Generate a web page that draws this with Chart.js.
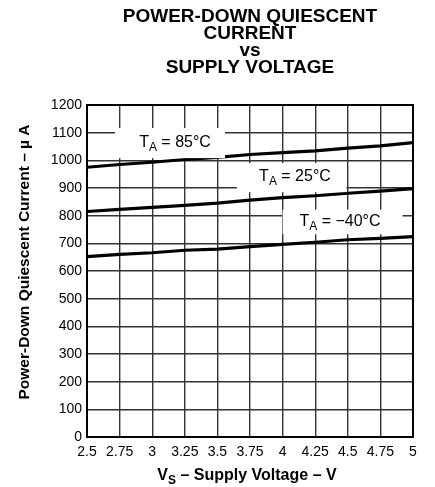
<!DOCTYPE html>
<html>
<head>
<meta charset="utf-8">
<script src="https://cdn.jsdelivr.net/npm/chart.js@4.4.1/dist/chart.umd.min.js"></script>
<style>
  html, body { margin: 0; padding: 0; background: #fff; }
  #chart { display: block; }
</style>
</head>
<body>
<canvas id="chart" width="435" height="487"></canvas>
<script>
// ========== DATA ==========
const voltage = [2.5, 2.75, 3, 3.25, 3.5, 3.75, 4, 4.25, 4.5, 4.75, 5];
const current85 = [975, 985, 993, 1003, 1011, 1021, 1028, 1034, 1044, 1052, 1064];
const current25 = [815, 823, 830, 837, 845, 856, 865, 872, 881, 889, 898];
const currentMinus40 = [652, 660, 666, 675, 679, 688, 696, 704, 713, 718, 724];
const seriesNames = ["85°C", "25°C", "\u221240°C"];
const xTickLabels = ["2.5", "2.75", "3", "3.25", "3.5", "3.75", "4", "4.25", "4.5", "4.75", "5"];
const yTickLabels = ["0", "100", "200", "300", "400", "500", "600", "700", "800", "900", "1000", "1100", "1200"];

const FONT = "'Liberation Sans', Arial, Helvetica, sans-serif";

// where each curve label sits, in axis units (box = x1, x2, yTop, yBottom)
const labelSpots = [
  { cx: 3.175, cy: 1065, box: [2.715, 3.558, 1117, 1008] },
  { cx: 4.095, cy: 942, box: [3.65, 4.49, 990, 885] },
  { cx: 4.44, cy: 778, box: [4.0, 4.92, 822, 733] }
];

function toPoints(ys) {
  return voltage.map((v, i) => ({ x: v, y: ys[i] }));
}

// ========== TEXT PLUGIN ==========
function drawSubText(ctx, x, y, main, sub, rest, size, bold, align) {
  const w = bold ? "bold " : "";
  const subSize = Math.round(size * 0.78);
  ctx.font = w + size + "px " + FONT;
  const w1 = ctx.measureText(main).width;
  ctx.font = w + subSize + "px " + FONT;
  const w2 = ctx.measureText(sub).width;
  ctx.font = w + size + "px " + FONT;
  const w3 = ctx.measureText(rest).width;
  const left = align === "center" ? x - (w1 + w2 + w3) / 2 : x;
  ctx.textAlign = "left";
  ctx.textBaseline = "middle";
  ctx.fillText(main, left, y);
  ctx.font = w + subSize + "px " + FONT;
  ctx.fillText(sub, left + w1, y + size * 0.32);
  ctx.font = w + size + "px " + FONT;
  ctx.fillText(rest, left + w1 + w2, y);
}

const textPlugin = {
  id: "textPlugin",
  afterDatasetsDraw(chart) {
    const { ctx, scales } = chart;
    ctx.save();
    labelSpots.forEach((spot, i) => {
      const x1 = scales.x.getPixelForValue(spot.box[0]);
      const x2 = scales.x.getPixelForValue(spot.box[1]);
      const y1 = scales.y.getPixelForValue(spot.box[2]);
      const y2 = scales.y.getPixelForValue(spot.box[3]);
      ctx.fillStyle = "#fff";
      ctx.fillRect(x1, y1, x2 - x1, y2 - y1);
      ctx.fillStyle = "#000";
      drawSubText(ctx, scales.x.getPixelForValue(spot.cx), scales.y.getPixelForValue(spot.cy),
        "T", "A", " = " + seriesNames[i], 16, false, "center");
    });
    ctx.restore();
  },
  afterDraw(chart) {
    const { ctx, chartArea } = chart;
    ctx.save();
    // frame
    ctx.strokeStyle = "#000";
    ctx.lineWidth = 2;
    ctx.strokeRect(chartArea.left, chartArea.top, chartArea.right - chartArea.left, chartArea.bottom - chartArea.top);

    // title
    ctx.fillStyle = "#000";
    ctx.textAlign = "center";
    ctx.textBaseline = "middle";
    ctx.font = "bold 19px " + FONT;
    const titleX = (chartArea.left + chartArea.right) / 2;
    ctx.fillText("POWER-DOWN QUIESCENT", titleX, 17);
    ctx.fillText("CURRENT", titleX, 34);
    ctx.fillText("vs", titleX, 51);
    ctx.fillText("SUPPLY VOLTAGE", titleX, 68);

    // y axis title
    ctx.save();
    ctx.translate(25, 262);
    ctx.rotate(-Math.PI / 2);
    ctx.font = "bold 15.5px " + FONT;
    ctx.fillText("Power-Down Quiescent Current \u2013 \u00b5 A", 0, 0);
    ctx.restore();

    // x axis title
    drawSubText(ctx, 247, 476, "V", "S", " \u2013 Supply Voltage \u2013 V", 16, true, "center");
    ctx.restore();
  }
};

// ========== CHART ==========
const lineStyle = {
  borderColor: "#000",
  borderWidth: 3.2,
  pointRadius: 0,
  tension: 0,
  fill: false
};

new Chart(document.getElementById("chart").getContext("2d"), {
  type: "line",
  data: {
    datasets: [
      { label: seriesNames[0], data: toPoints(current85), ...lineStyle },
      { label: seriesNames[1], data: toPoints(current25), ...lineStyle },
      { label: seriesNames[2], data: toPoints(currentMinus40), ...lineStyle }
    ]
  },
  options: {
    responsive: false,
    animation: false,
    devicePixelRatio: 1,
    layout: { padding: { top: 105, right: 22, bottom: 15, left: 37 } },
    plugins: {
      legend: { display: false },
      title: { display: false },
      tooltip: { enabled: false }
    },
    scales: {
      x: {
        type: "linear",
        min: 2.5,
        max: 5,
        afterFit: (s) => { s.height = 35; },
        ticks: {
          stepSize: 0.25,
          autoSkip: false,
          maxRotation: 0,
          padding: 7,
          color: "#000",
          font: { family: FONT, size: 14 },
          callback: (v) => xTickLabels[Math.round((v - 2.5) / 0.25)]
        },
        grid: { color: "#333", lineWidth: 1.4, drawTicks: false },
        border: { color: "#000", width: 2 }
      },
      y: {
        min: 0,
        max: 1200,
        afterFit: (s) => { s.width = 50; },
        ticks: {
          stepSize: 100,
          padding: 5,
          color: "#000",
          font: { family: FONT, size: 14 },
          callback: (v) => yTickLabels[Math.round(v / 100)]
        },
        grid: { color: "#333", lineWidth: 1.4, drawTicks: false },
        border: { color: "#000", width: 2 }
      }
    }
  },
  plugins: [textPlugin]
});
</script>
</body>
</html>
